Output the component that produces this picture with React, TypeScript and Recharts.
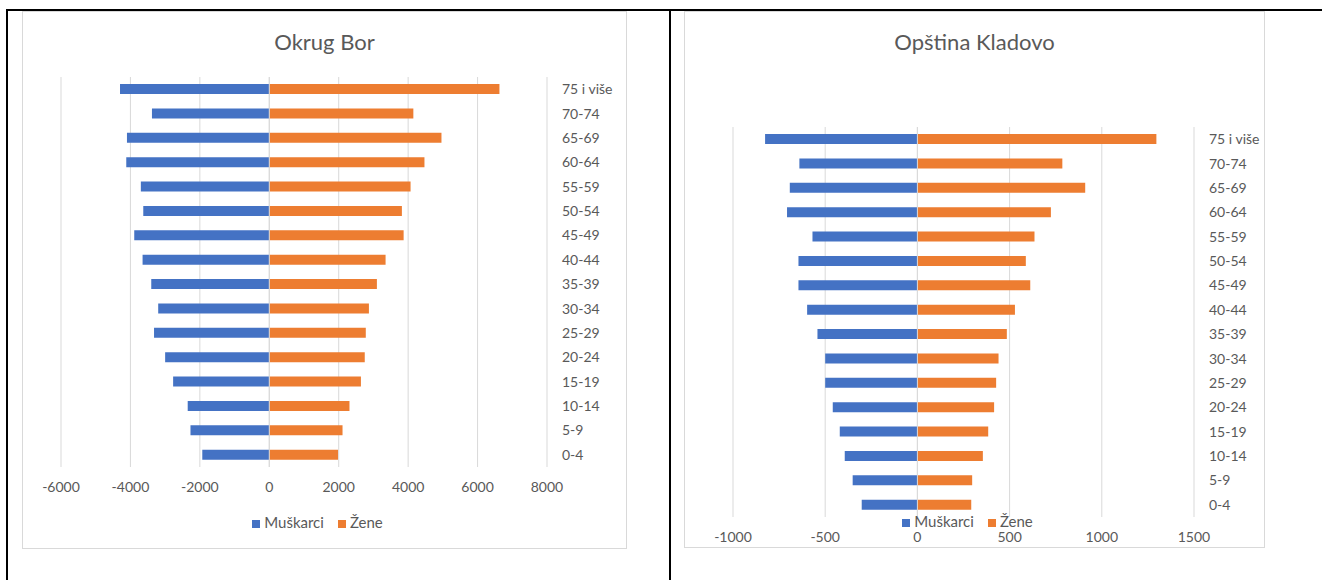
import React from 'react';
import { BarChart, Bar, XAxis, YAxis, CartesianGrid, Legend, ReferenceLine } from 'recharts';

// age groups, bottom to top
const ageGroups = ['0-4', '5-9', '10-14', '15-19', '20-24', '25-29', '30-34', '35-39', '40-44', '45-49', '50-54', '55-59', '60-64', '65-69', '70-74', '75 i više'];

// Okrug Bor
const borMen = [-1930, -2270, -2350, -2770, -3000, -3320, -3200, -3400, -3650, -3890, -3630, -3700, -4120, -4100, -3380, -4300];
const borWomen = [1980, 2110, 2310, 2640, 2750, 2780, 2870, 3100, 3350, 3870, 3820, 4070, 4470, 4960, 4150, 6630];
const borTicks = [-6000, -4000, -2000, 0, 2000, 4000, 6000, 8000];

// Opština Kladovo
const kladovoMen = [-302, -351, -394, -421, -459, -500, -500, -542, -598, -645, -645, -569, -707, -692, -640, -826];
const kladovoWomen = [292, 297, 355, 384, 416, 427, 440, 485, 529, 612, 588, 635, 724, 910, 786, 1296];
const kladovoTicks = [-1000, -500, 0, 500, 1000, 1500];

const FONT = 'Lato, "Noto Sans", sans-serif';
const TEXT = '#595959';
const GRID = '#d9d9d9';

type PyramidProps = {
  title: string;
  men: number[];
  women: number[];
  ticks: number[];
  left: number;
  top: number;
  width: number;
  height: number;
  margin: { top: number; right: number; bottom: number; left: number };
  yAxisWidth: number;
  legendTop: number;
};

const Pyramid = ({ title, men, women, ticks, left, top, width, height, margin, yAxisWidth, legendTop }: PyramidProps) => {
  const data = ageGroups.map((name, i) => ({ name, men: men[i], women: women[i] }));
  const tickStyle = { fill: TEXT, fontSize: 14, fontFamily: FONT };
  return (
    <div style={{ position: 'absolute', left, top, width, height, background: '#fff' }}>
      <div
        style={{
          position: 'absolute',
          left: 0,
          top: 17,
          width,
          textAlign: 'center',
          fontFamily: FONT,
          fontSize: 22,
          lineHeight: '28px',
          color: TEXT,
        }}
      >
        {title}
      </div>
      <BarChart width={width} height={height} data={data} layout="vertical" stackOffset="sign" margin={margin}>
        <CartesianGrid horizontal={false} stroke={GRID} />
        <XAxis
          type="number"
          domain={[ticks[0], ticks[ticks.length - 1]]}
          ticks={ticks}
          interval={0}
          axisLine={false}
          tickLine={false}
          tickSize={0}
          tickMargin={15}
          height={30}
          tick={tickStyle}
        />
        <YAxis
          type="category"
          dataKey="name"
          orientation="right"
          reversed
          width={yAxisWidth}
          axisLine={false}
          tickLine={false}
          tickSize={0}
          tickMargin={15}
          interval={0}
          tick={tickStyle}
        />
        <Bar dataKey="men" name="Muškarci" stackId="a" fill="#4472c4" barSize={10} isAnimationActive={false} />
        <Bar dataKey="women" name="Žene" stackId="a" fill="#ed7d31" barSize={10} isAnimationActive={false} />
        <ReferenceLine x={0} stroke={GRID} />
        <Legend
          layout="horizontal"
          verticalAlign="middle"
          align="center"
          iconType="square"
          iconSize={8}
          wrapperStyle={{ top: legendTop, left: 0, width, fontFamily: FONT, fontSize: 15, lineHeight: '15px' }}
          formatter={(value: string) => <span style={{ color: TEXT, paddingRight: 4 }}>{value}</span>}
        />
      </BarChart>
      <div
        style={{
          position: 'absolute',
          left: 0,
          top: 0,
          width,
          height,
          boxSizing: 'border-box',
          border: `1px solid ${GRID}`,
          pointerEvents: 'none',
        }}
      />
    </div>
  );
};

export default function App() {
  return (
    <div style={{ position: 'absolute', left: 0, top: 0, width: 1322, height: 580, background: '#fff', overflow: 'hidden' }}>
      {/* table borders */}
      <div style={{ position: 'absolute', left: 6, top: 9, width: 1316, height: 2, background: '#000' }} />
      <div style={{ position: 'absolute', left: 6, top: 9, width: 2, height: 571, background: '#000' }} />
      <div style={{ position: 'absolute', left: 669, top: 9, width: 2, height: 571, background: '#000' }} />

      <Pyramid
        title="Okrug Bor"
        men={borMen}
        women={borWomen}
        ticks={borTicks}
        left={22}
        top={11}
        width={605}
        height={538}
        margin={{ top: 66, left: 39, right: 10, bottom: 52 }}
        yAxisWidth={70}
        legendTop={504}
      />
      <Pyramid
        title="Opština Kladovo"
        men={kladovoMen}
        women={kladovoWomen}
        ticks={kladovoTicks}
        left={684}
        top={11}
        width={581}
        height={537}
        margin={{ top: 116, left: 49, right: 10, bottom: 1 }}
        yAxisWidth={61}
        legendTop={503}
      />
    </div>
  );
}
